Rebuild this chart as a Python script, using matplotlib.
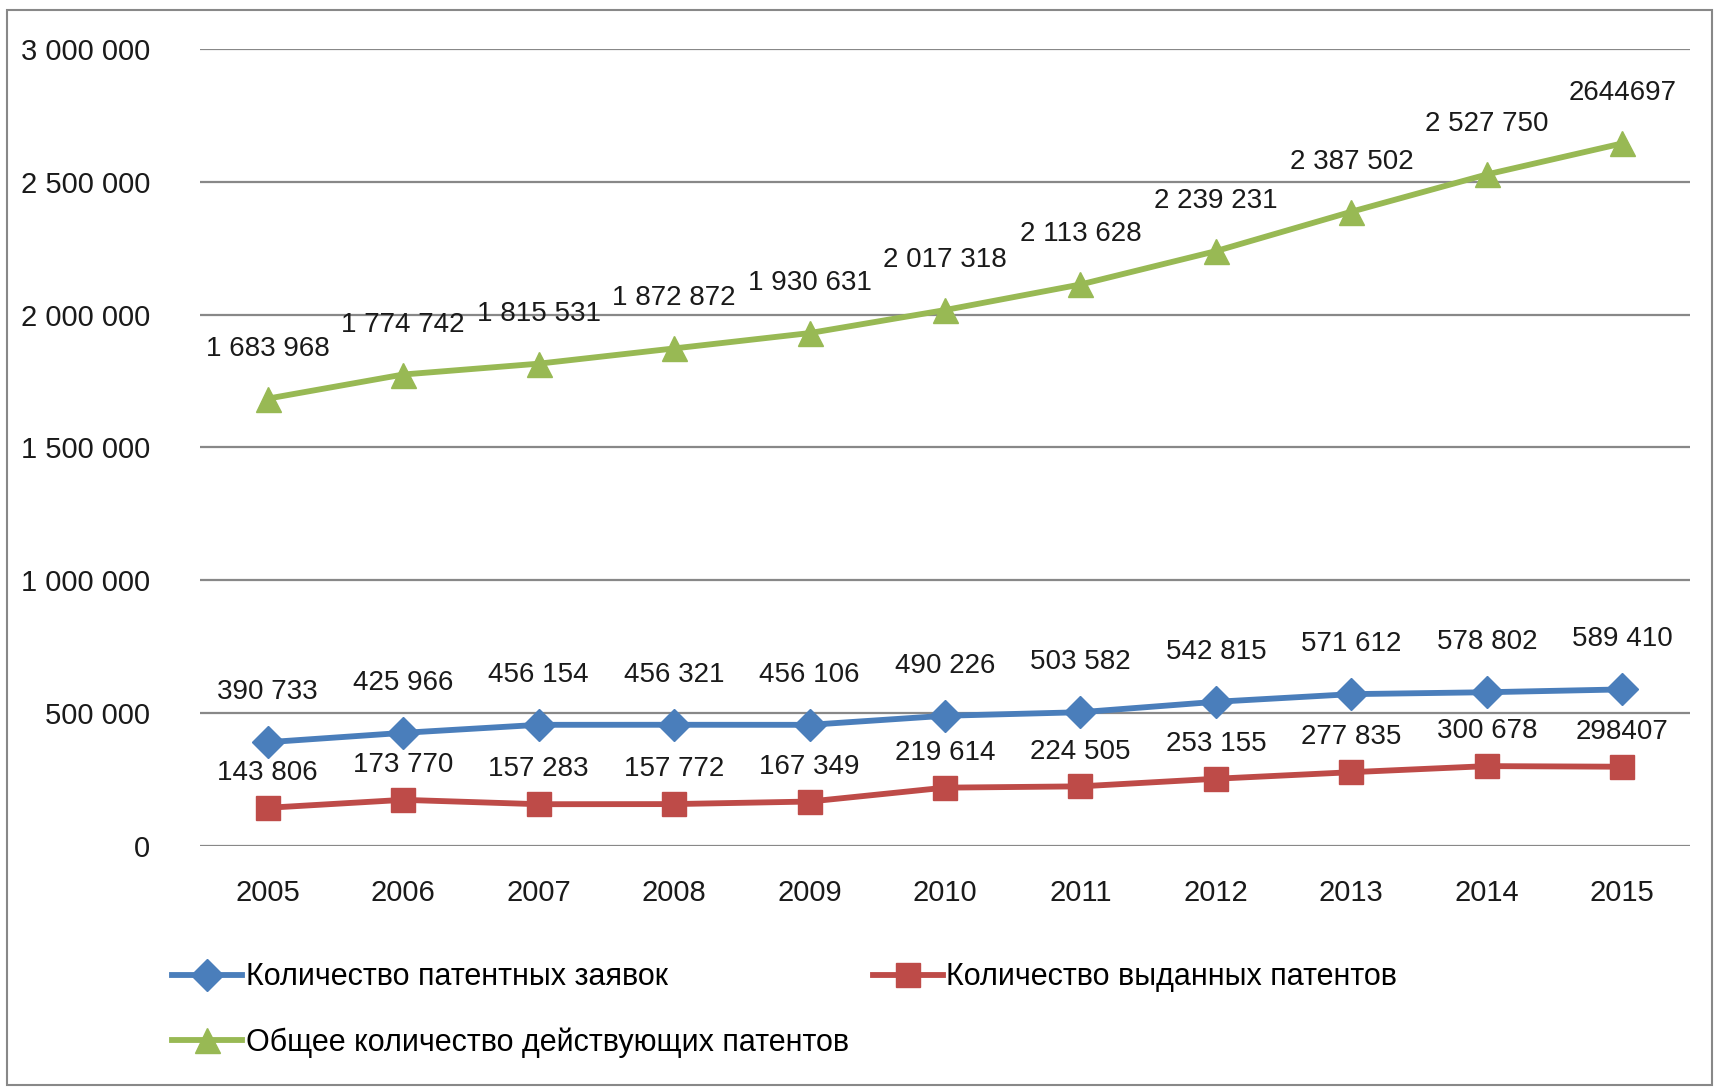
import matplotlib.pyplot as plt
from matplotlib.ticker import FuncFormatter
from matplotlib.patches import Rectangle

years = ['2005', '2006', '2007', '2008', '2009', '2010', '2011', '2012', '2013', '2014', '2015']
applications = [390733, 425966, 456154, 456321, 456106, 490226, 503582, 542815, 571612, 578802, 589410]
granted = [143806, 173770, 157283, 157772, 167349, 219614, 224505, 253155, 277835, 300678, 298407]
in_force = [1683968, 1774742, 1815531, 1872872, 1930631, 2017318, 2113628, 2239231, 2387502, 2527750, 2644697]

names = ['Количество патентных заявок', 'Количество выданных патентов',
         'Общее количество действующих патентов']

plt.rcParams['font.family'] = ['Liberation Sans', 'DejaVu Sans']


def spaced(v, pos=None):
    return '{:,}'.format(int(v)).replace(',', ' ')


fig = plt.figure(figsize=(17.15, 10.87), dpi=100)
ax = fig.add_axes([200 / 1715, 1 - 846 / 1087, 1490 / 1715, 797 / 1087])

x = list(range(len(years)))
series = [
    (applications, '#4A7EBB', 'D', 16, 36),
    (granted, '#BE4B48', 's', 17, 25),
    (in_force, '#98B954', '^', 18, 36),
]
handles = []
for (vals, col, mk, ms, off), name in zip(series, names):
    h, = ax.plot(x, vals, color=col, lw=4.2, marker=mk, markersize=ms,
                 markeredgecolor=col, label=name, zorder=3)
    handles.append(h)
    for i, v in enumerate(vals):
        # the last points of two series were typed without spaces in the source
        txt = str(v) if (i == len(vals) - 1 and vals is not applications) else spaced(v)
        ax.annotate(txt, (i, v), xytext=(0, off), textcoords='offset points',
                    ha='center', va='center', fontsize=20, color='#1a1a1a', zorder=4)

ax.set_xlim(-0.5, len(years) - 0.5)
ax.set_ylim(0, 3000000)
ax.set_yticks(range(0, 3000001, 500000))
ax.yaxis.set_major_formatter(FuncFormatter(spaced))
ax.set_xticks(x)
ax.set_xticklabels(years)
ax.tick_params(axis='both', length=0, labelsize=21, colors='#1a1a1a')
ax.tick_params(axis='y', pad=36)
ax.tick_params(axis='x', pad=24)
ax.grid(axis='y', color='#888888', lw=1.6)
ax.set_axisbelow(True)
for s in ax.spines.values():
    s.set_visible(False)

# legend fills column by column, so order it to read row by row
order = [handles[0], handles[2], handles[1]]
leg = fig.legend(handles=order, loc='upper left', bbox_to_anchor=(160 / 1715, 1 - 950 / 1087),
                 ncol=2, frameon=False, fontsize=22, handlelength=2.3, handletextpad=0.1,
                 columnspacing=0.8, labelspacing=1.15, borderaxespad=0)

fig.patches.append(Rectangle((7 / 1715, 0.002), 1705 / 1715, 1 - 12 / 1087, transform=fig.transFigure,
                             fill=False, edgecolor='#888888', lw=1.5))

fig.savefig('out.png', dpi=100)
